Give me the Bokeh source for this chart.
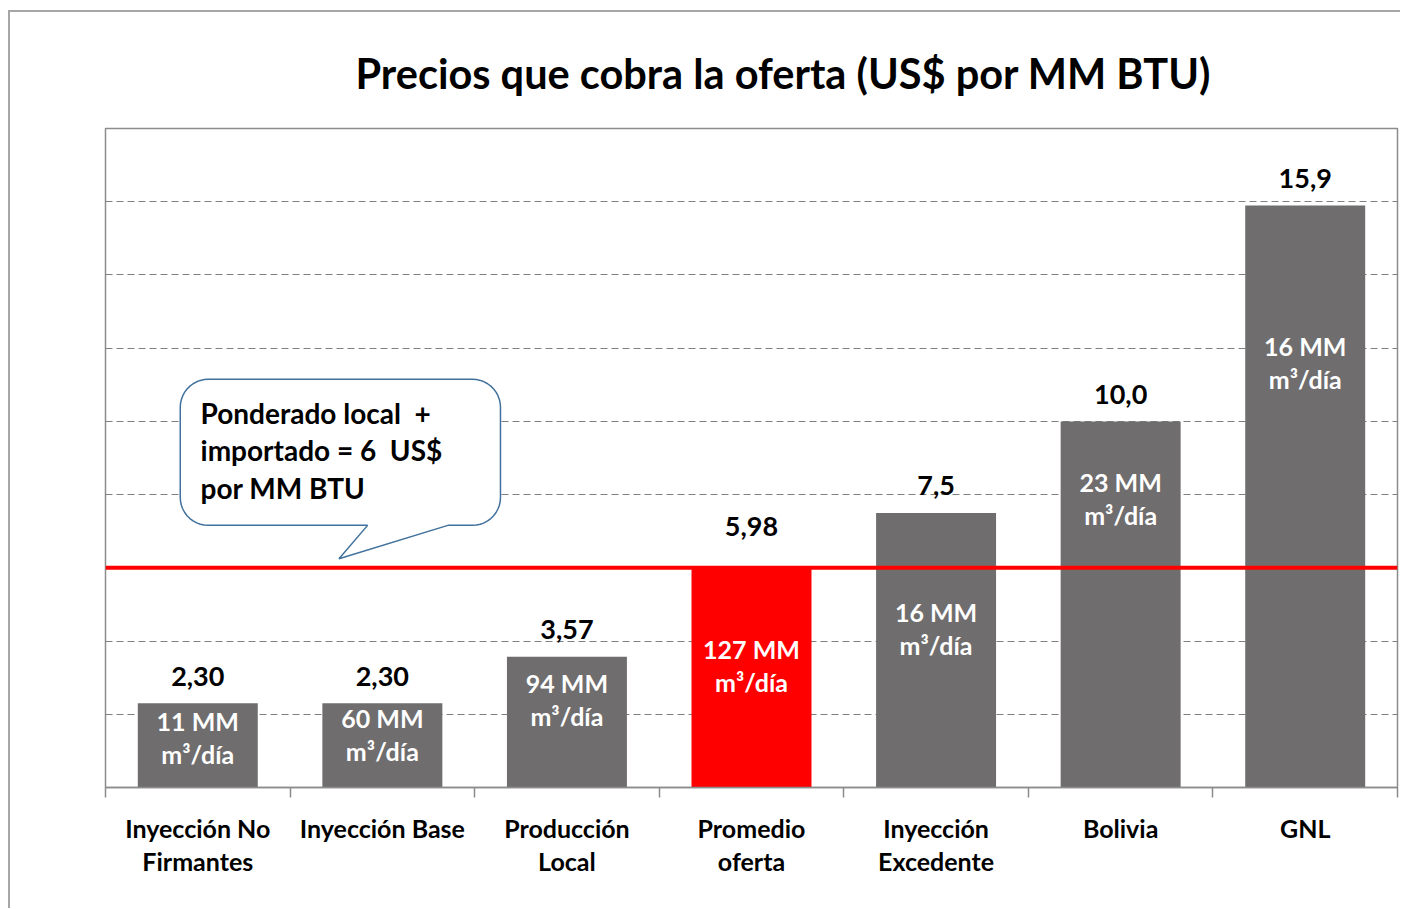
from bokeh.plotting import figure
from bokeh.models import Range1d, FixedTicker, Span, ColumnDataSource
from bokeh.embed import file_html
from bokeh.resources import INLINE
from bokeh.core.properties import value
import numpy as np

# ---- data ----
categories = ["Inyección No\nFirmantes", "Inyección Base", "Producción\nLocal",
              "Promedio\noferta", "Inyección\nExcedente", "Bolivia", "GNL"]
prices = [2.30, 2.30, 3.57, 5.98, 7.5, 10.0, 15.9]
price_labels = ["2,30", "2,30", "3,57", "5,98", "7,5", "10,0", "15,9"]
volumes = ["11 MM", "60 MM", "94 MM", "127 MM", "16 MM", "23 MM", "16 MM"]
volume_unit = "m³/día"
highlight = "Promedio\noferta"
weighted_price = 6
y_ticks = [2, 4, 6, 8, 10, 12, 14, 16]
title_text = "Precios que cobra la oferta (US$ por MM BTU)"
callout_lines = ["Ponderado local \u00a0+", "importado = 6 \u00a0US$", "por MM BTU"]

# ---- layout constants ----
FONT = "Lato"
FRAME_W, FRAME_H = 1292, 659
MARGIN_L, MARGIN_T = 8, 10          # outer chart border position on the page
BORDER_L, BORDER_T = 105 - MARGIN_L - 2, 128 - MARGIN_T - 2
Y_MAX = 18
N = len(categories)
PX_X = FRAME_W / N
PX_Y = FRAME_H / Y_MAX
BAR_GREY = "#6f6d6e"
RED = "#ff0000"
inner_label_frac = [0.59, 0.63, 0.67, 0.555, 0.58, 0.79, 0.73]

xs = [i + 0.5 for i in range(N)]
colors = [RED if c == highlight else BAR_GREY for c in categories]
top_offsets = [-42 if c == highlight else -27 for c in categories]
inner_text = [v + "\n" + volume_unit for v in volumes]
inner_y = [p_ * f for p_, f in zip(prices, inner_label_frac)]

src = ColumnDataSource(dict(x=xs, top=prices, color=colors, lab=price_labels,
                            yoff=top_offsets, inner=inner_text, iy=inner_y))

p = figure(frame_width=FRAME_W, frame_height=FRAME_H,
           min_border_left=BORDER_L, min_border_right=3, min_border_top=BORDER_T, min_border_bottom=121,
           x_range=Range1d(0, N), y_range=Range1d(0, Y_MAX),
           output_backend="svg", toolbar_location=None)
p.styles = {"margin-left": f"{MARGIN_L}px", "margin-top": f"{MARGIN_T}px",
            "border-left": "2px solid #a6a6a6", "border-top": "2px solid #a6a6a6"}

p.title.text = title_text
p.title.align = "left"
p.title.offset = 250
p.title.text_font = FONT
p.title.text_font_style = "bold"
p.title.text_font_size = "41.5px"
p.title.text_color = "#000000"
p.title.standoff = 61

p.background_fill_color = "white"
p.border_fill_color = "white"
p.outline_line_color = "#8c8c8c"
p.outline_line_width = 1.5

# grid
p.xgrid.visible = False
p.ygrid.ticker = FixedTicker(ticks=y_ticks)
p.ygrid.grid_line_color = "#808080"
p.ygrid.grid_line_dash = "7 4"
p.ygrid.grid_line_width = 1.2
p.yaxis.visible = False

# x axis
ax = p.xaxis[0]
ax.ticker = FixedTicker(ticks=xs, minor_ticks=list(range(N + 1)))
ax.major_label_overrides = {x: c for x, c in zip(xs, categories)}
ax.major_tick_in = 0
ax.major_tick_out = 0
ax.minor_tick_in = 0
ax.minor_tick_out = 10
ax.minor_tick_line_color = "#8c8c8c"
ax.minor_tick_line_width = 1.5
ax.axis_line_color = "#8c8c8c"
ax.axis_line_width = 1.5
ax.major_label_text_font = FONT
ax.major_label_text_font_style = "bold"
ax.major_label_text_font_size = "25px"
ax.major_label_text_color = "#000000"
ax.major_label_text_line_height = 1.1
ax.major_label_standoff = 15

# bars
p.vbar(x="x", top="top", width=0.65, source=src, fill_color="color", line_color=None)

# weighted price line
p.add_layout(Span(location=weighted_price, dimension="width", line_color=RED, line_width=4))

# value labels
p.text(x="x", y="top", text="lab", source=src, y_offset="yoff",
       text_align="center", text_baseline="middle",
       text_font=value(FONT), text_font_style="bold", text_font_size="27px", text_color="#000000")

# volume labels inside bars
p.text(x="x", y="iy", text="inner", source=src,
       text_align="center", text_baseline="middle", text_line_height=1.1,
       text_font=value(FONT), text_font_style="bold", text_font_size="25px", text_color="#ffffff")

# callout bubble (data units)
bx0, bx1, by0, by1 = 0.405, 2.14, 7.16, 11.15
tail_a, tail_b, tip_x, tip_y = 1.42, 1.855, 1.265, 6.25
rx, ry = 28 / PX_X, 28 / PX_Y
def arc(cx, cy, a0, a1):
    t = np.linspace(np.radians(a0), np.radians(a1), 12)
    return list(cx + rx * np.cos(t)), list(cy + ry * np.sin(t))
px_, py_ = [], []
for seg in [arc(bx1 - rx, by1 - ry, 0, 90), arc(bx0 + rx, by1 - ry, 90, 180),
            arc(bx0 + rx, by0 + ry, 180, 270)]:
    px_ += seg[0]; py_ += seg[1]
px_ += [tail_a, tip_x, tail_b]
py_ += [by0, tip_y, by0]
seg = arc(bx1 - rx, by0 + ry, 270, 360)
px_ += seg[0]; py_ += seg[1]
p.patch(px_, py_, fill_color="white", line_color="#41719c", line_width=1.5)

callout_x = 0.515
callout_y = [10.22, 9.21, 8.17]
p.text(x=[callout_x] * 3, y=callout_y, text=callout_lines,
       text_align="left", text_baseline="middle",
       text_font=value(FONT), text_font_style="bold", text_font_size="28px", text_color="#000000")

open("out.html", "w").write(file_html(p, INLINE))
